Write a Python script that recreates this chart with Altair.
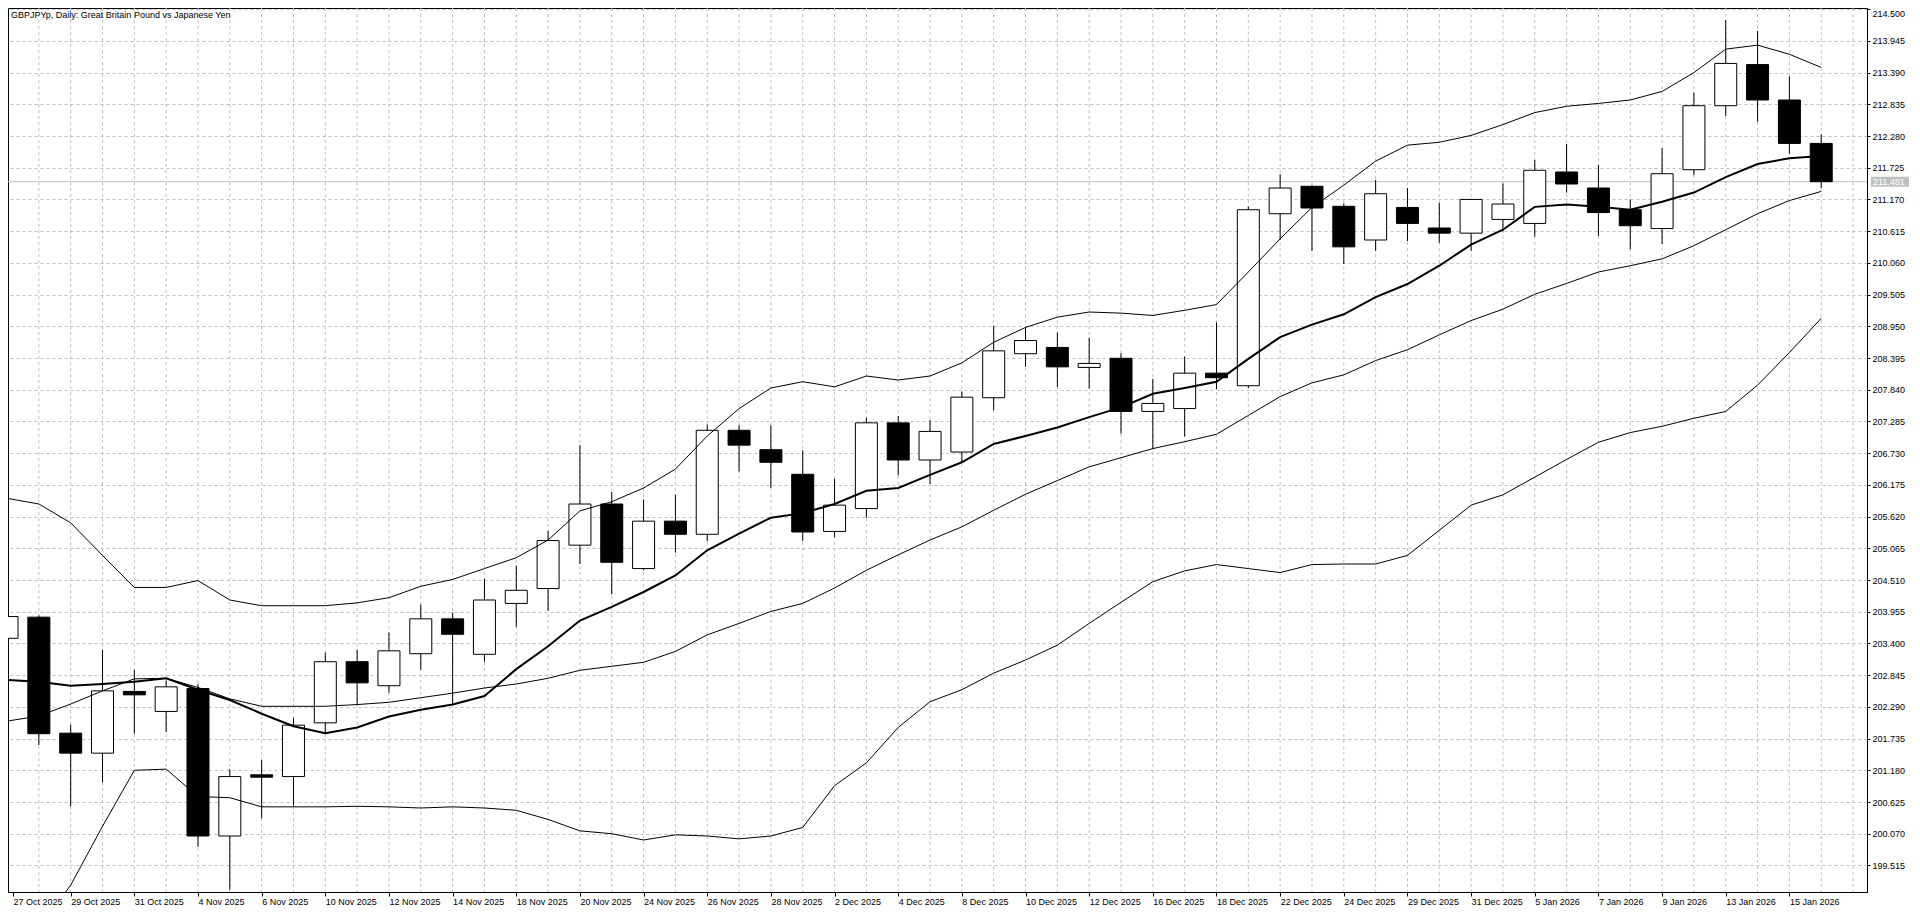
import altair as alt
import pandas as pd

title_text = "GBPJPYp, Daily:  Great Britain Pound vs Japanese Yen"
last_price = 211.481

dates = ["27 Oct 2025", "28 Oct 2025", "29 Oct 2025", "30 Oct 2025", "31 Oct 2025",
         "3 Nov 2025", "4 Nov 2025", "5 Nov 2025", "6 Nov 2025", "7 Nov 2025",
         "10 Nov 2025", "11 Nov 2025", "12 Nov 2025", "13 Nov 2025", "14 Nov 2025",
         "17 Nov 2025", "18 Nov 2025", "19 Nov 2025", "20 Nov 2025", "21 Nov 2025",
         "24 Nov 2025", "25 Nov 2025", "26 Nov 2025", "27 Nov 2025", "28 Nov 2025",
         "1 Dec 2025", "2 Dec 2025", "3 Dec 2025", "4 Dec 2025", "5 Dec 2025",
         "8 Dec 2025", "9 Dec 2025", "10 Dec 2025", "11 Dec 2025", "12 Dec 2025",
         "15 Dec 2025", "16 Dec 2025", "17 Dec 2025", "18 Dec 2025", "19 Dec 2025",
         "22 Dec 2025", "23 Dec 2025", "24 Dec 2025", "26 Dec 2025",
         "29 Dec 2025", "30 Dec 2025", "31 Dec 2025", "2 Jan 2026",
         "5 Jan 2026", "6 Jan 2026", "7 Jan 2026", "8 Jan 2026", "9 Jan 2026",
         "12 Jan 2026", "13 Jan 2026", "14 Jan 2026", "15 Jan 2026", "16 Jan 2026"]

opens = [203.49, 203.86, 201.83, 201.48, 202.56, 202.21, 202.61, 200.03, 201.10, 201.07,
         202.01, 203.08, 202.66, 203.22, 203.83, 203.21, 204.10, 204.36, 205.12, 205.84,
         204.71, 205.54, 205.31, 207.13, 206.79, 206.36, 205.36, 205.76, 207.26, 206.61,
         206.75, 207.70, 208.47, 208.58, 208.23, 208.39, 207.46, 207.51, 208.13, 207.91,
         210.92, 211.40, 211.05, 210.46, 211.03, 210.67, 210.58, 210.82, 210.75, 211.65,
         211.37, 210.99, 210.66, 211.69, 212.81, 213.53, 212.91, 212.15]
highs = [203.95, 203.89, 201.98, 203.29, 202.94, 202.75, 202.69, 201.20, 201.36, 202.10,
         203.24, 203.29, 203.59, 204.08, 203.94, 204.53, 204.76, 205.37, 206.87, 206.05,
         205.92, 206.00, 207.23, 207.22, 207.22, 206.78, 206.28, 207.35, 207.38, 207.31,
         207.81, 208.96, 208.93, 208.84, 208.75, 208.48, 208.03, 208.42, 209.02, 211.05,
         211.61, 211.42, 211.10, 211.51, 211.37, 211.11, 211.18, 211.45, 211.86, 212.14,
         211.77, 211.17, 212.07, 213.04, 214.31, 214.12, 213.32, 212.31]
lows = [203.30, 201.62, 200.55, 200.97, 201.82, 201.85, 199.84, 199.09, 200.34, 200.56,
        201.83, 202.32, 202.54, 202.94, 202.33, 203.08, 203.69, 203.97, 204.79, 204.26,
        204.68, 204.99, 205.19, 206.41, 206.12, 205.19, 205.26, 205.60, 206.34, 206.19,
        206.56, 207.48, 208.24, 207.89, 207.86, 207.07, 206.80, 207.02, 207.85, 207.87,
        210.46, 210.27, 210.04, 210.27, 210.44, 210.41, 210.27, 210.61, 210.52, 211.29,
        210.53, 210.30, 210.39, 211.59, 212.63, 212.53, 211.97, 211.37]
closes = [203.87, 201.82, 201.48, 202.57, 202.50, 202.64, 200.03, 201.07, 201.06, 201.97,
          203.08, 202.71, 203.27, 203.83, 203.56, 204.16, 204.33, 205.20, 205.84, 204.82,
          205.54, 205.31, 207.13, 206.87, 206.57, 205.35, 205.82, 207.26, 206.61, 207.11,
          207.71, 208.52, 208.70, 208.24, 208.30, 207.46, 207.60, 208.13, 208.05, 210.99,
          211.37, 211.02, 210.34, 211.27, 210.75, 210.58, 211.17, 211.09, 211.68, 211.44,
          210.94, 210.71, 211.62, 212.81, 213.55, 212.91, 212.15, 211.48]

ma_fast = [202.76, 202.73, 202.66, 202.69, 202.73, 202.79, 202.59, 202.41, 202.17, 201.95,
           201.83, 201.93, 202.12, 202.24, 202.33, 202.48, 202.95, 203.35, 203.80, 204.04,
           204.30, 204.59, 205.03, 205.32, 205.60, 205.68, 205.84, 206.07, 206.12, 206.35,
           206.57, 206.89, 207.03, 207.18, 207.36, 207.53, 207.77, 207.87, 207.98, 208.38,
           208.76, 208.98, 209.16, 209.46, 209.69, 210.01, 210.38, 210.64, 211.04, 211.08,
           211.04, 210.99, 211.13, 211.29, 211.56, 211.79, 211.89, 211.93]
bb_mid = [202.04, 202.13, 202.34, 202.57, 202.78, 202.79, 202.63, 202.43, 202.30, 202.30,
          202.30, 202.33, 202.37, 202.45, 202.53, 202.62, 202.69, 202.79, 202.93, 203.00,
          203.07, 203.26, 203.55, 203.75, 203.96, 204.10, 204.37, 204.68, 204.95, 205.21,
          205.44, 205.73, 206.01, 206.25, 206.49, 206.65, 206.81, 206.93, 207.06, 207.39,
          207.72, 207.96, 208.10, 208.35, 208.54, 208.80, 209.05, 209.25, 209.51, 209.70,
          209.90, 210.01, 210.13, 210.36, 210.64, 210.92, 211.15, 211.31]
bb_upper = [205.94, 205.84, 205.51, 204.94, 204.38, 204.38, 204.50, 204.16, 204.06, 204.06,
            204.06, 204.11, 204.20, 204.40, 204.52, 204.71, 204.90, 205.21, 205.72, 205.88,
            206.12, 206.45, 207.03, 207.51, 207.87, 207.98, 207.89, 208.08, 208.01, 208.08,
            208.31, 208.67, 208.93, 209.11, 209.20, 209.18, 209.14, 209.23, 209.33, 209.90,
            210.48, 211.03, 211.42, 211.84, 212.12, 212.17, 212.29, 212.48, 212.69, 212.80,
            212.85, 212.91, 213.06, 213.39, 213.80, 213.87, 213.71, 213.48]
bb_lower = [198.14, 198.42, 199.17, 200.20, 201.18, 201.20, 200.72, 200.70, 200.54, 200.54,
            200.54, 200.55, 200.54, 200.52, 200.54, 200.52, 200.48, 200.32, 200.12, 200.07,
            199.96, 200.05, 200.03, 199.98, 200.03, 200.18, 200.91, 201.31, 201.93, 202.38,
            202.59, 202.88, 203.11, 203.37, 203.75, 204.12, 204.48, 204.67, 204.78, 204.71,
            204.64, 204.78, 204.79, 204.79, 204.94, 205.38, 205.82, 206.00, 206.31, 206.62,
            206.92, 207.09, 207.20, 207.34, 207.46, 207.92, 208.49, 209.09]

y_ticks = [round(199.515 + 0.555 * k, 3) for k in range(28)]
tick_labels = dates[0::2]

df = pd.DataFrame({
    "i": list(range(len(dates))), "date": dates,
    "open": opens, "high": highs, "low": lows, "close": closes,
    "ma": ma_fast, "mid": bb_mid, "upper": bb_upper, "lower": bb_lower,
})
df["body_lo"] = df[["open", "close"]].min(axis=1)
df["body_hi"] = df[["open", "close"]].max(axis=1)
df["bull"] = df["close"] >= df["open"]

grid_df = pd.DataFrame({"g": list(range(1, len(dates) + 1))})
price_df = pd.DataFrame({"p": [last_price], "lbl": [f"{last_price:.3f}"]})
title_df = pd.DataFrame({"t": [title_text]})

FONT = "Liberation Sans"
GRID = "#c0c0c0"
W, H = 1859, 884
x_lo, x_hi = 0.1875, 58.28125
y_lo, y_hi = 199.05, 214.52

label_expr = "[" + ",".join(f"'{d}'" for d in tick_labels) + "][round(datum.value/2)]"
x_scale = alt.Scale(domain=[x_lo, x_hi], nice=False, zero=False)
y_scale = alt.Scale(domain=[y_lo, y_hi], nice=False, zero=False)
x_axis = alt.Axis(values=[x_lo] + list(range(2, len(dates) - 1, 2)), labelExpr=label_expr,
                  labelAlign="left", labelFlush=False, labelOverlap=False, tickSize=4,
                  labelPadding=1, grid=False, title=None)
y_axis = alt.Axis(orient="right", values=y_ticks, format=".3f", tickSize=3, labelPadding=2,
                  grid=True, gridDash=[3, 3], gridColor=GRID, labelOverlap=False,
                  labelFlush=5, title=None)


def X(field):
    return alt.X(f"{field}:Q", scale=x_scale, axis=x_axis)


def Y(field):
    return alt.Y(f"{field}:Q", scale=y_scale, axis=y_axis)


vgrid = alt.Chart(grid_df).mark_rule(color=GRID, strokeDash=[3, 3], strokeWidth=1).encode(x=X("g"))
price_line = alt.Chart(price_df).mark_rule(color=GRID, strokeWidth=1).encode(y=Y("p"))
wicks = alt.Chart(df).mark_rule(color="black", strokeWidth=1, clip=True).encode(
    x=X("i"), y=Y("low"), y2="high")
bodies = alt.Chart(df).mark_bar(size=22, stroke="black", strokeWidth=1, clip=True).encode(
    x=X("i"), y=Y("body_lo"), y2="body_hi",
    fill=alt.condition("datum.bull", alt.value("white"), alt.value("black")))
upper_line = alt.Chart(df).mark_line(color="black", strokeWidth=1, clip=True).encode(x=X("i"), y=Y("upper"))
mid_line = alt.Chart(df).mark_line(color="black", strokeWidth=1, clip=True).encode(x=X("i"), y=Y("mid"))
lower_line = alt.Chart(df).mark_line(color="black", strokeWidth=1, clip=True).encode(x=X("i"), y=Y("lower"))
ma_line = alt.Chart(df).mark_line(color="black", strokeWidth=2, clip=True).encode(x=X("i"), y=Y("ma"))

box_half = 0.088
price_box = alt.Chart(price_df).transform_calculate(
    top=f"datum.p + {box_half}", bot=f"datum.p - {box_half}"
).mark_rect(color=GRID, clip=False).encode(
    x=alt.value(W + 4), x2=alt.value(W + 42), y=Y("top"), y2="bot")
price_text = alt.Chart(price_df).mark_text(
    align="left", baseline="middle", color="white", font=FONT, fontSize=9, clip=False
).encode(x=alt.value(W + 6), y=Y("p"), text="lbl:N")
title_mark = alt.Chart(title_df).mark_text(
    align="left", baseline="top", color="black", font=FONT, fontSize=9
).encode(x=alt.value(3), y=alt.value(3), text="t:N")

chart = alt.layer(
    vgrid, price_line, wicks, bodies, upper_line, mid_line, lower_line, ma_line,
    price_box, price_text, title_mark
).properties(
    width=W, height=H,
    padding={"left": 0, "top": 0, "right": 44, "bottom": 15},
    autosize=alt.AutoSizeParams(type="none"),
    background="white",
).configure_view(
    stroke="black", strokeWidth=1
).configure_axis(
    labelFont=FONT, labelFontSize=9, labelColor="black", tickColor="black",
    domainColor="black", domainWidth=1
)

chart.save("out.html", embed_options={"renderer": "svg", "actions": False})
